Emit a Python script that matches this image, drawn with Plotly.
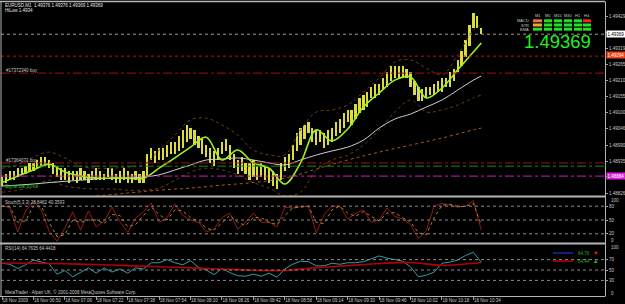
import plotly.graph_objects as go
from plotly.subplots import make_subplots
import pandas as pd

W, H = 625, 304
BASE = pd.Timestamp("2009-11-18 06:34")

# ---------------- data ----------------
bar_minutes = list(range(0, 245, 2))          # 2-minute sampling of the M1 bars
bar_high = [
    1.4888, 1.4889, 1.4890,
    1.4890, 1.4891, 1.4891, 1.4892, 1.4893,
    1.4893, 1.4894, 1.4895, 1.4895, 1.4894,
    1.4893, 1.4892,
    1.4891, 1.4891, 1.4890, 1.4890,
    1.4890, 1.4891, 1.4890, 1.4889,
    1.4890, 1.4891, 1.4890, 1.4889, 1.4891, 1.4891,
    1.4889, 1.4890, 1.4891, 1.4890, 1.4889, 1.4890, 1.4889, 1.4890,
    1.4896,
    1.4898, 1.4897, 1.4898, 1.4898,
    1.4899, 1.4900, 1.4900, 1.4902,
    1.4904, 1.4906, 1.4905, 1.4904,
    1.4902, 1.4901, 1.4899,
    1.4898, 1.4897, 1.4898,
    1.4900, 1.4901, 1.4899,
    1.4896, 1.4894, 1.4895,
    1.4893, 1.4893, 1.4894, 1.4892, 1.4893, 1.4892,
    1.4891, 1.4890, 1.4889, 1.4893,
    1.4895, 1.4896,
    1.4899, 1.4903,
    1.4905, 1.4906, 1.4907,
    1.4905, 1.4904, 1.4904, 1.4903, 1.4904, 1.4905,
    1.4907, 1.4908,
    1.4910, 1.4911, 1.4911, 1.4913,
    1.4915, 1.4916, 1.4917,
    1.4919, 1.4920, 1.4920,
    1.4922, 1.4924,
    1.4926, 1.4926, 1.4926, 1.4926, 1.4925,
    1.4924, 1.4921,
    1.4919, 1.4918, 1.4919,
    1.4919, 1.4920, 1.4921,
    1.4922, 1.4922, 1.4924, 1.4925,
    1.4928,
    1.4931, 1.4935,
    1.4940, 1.4944,
    1.4943, 1.4939]
bar_low = [
    1.4885, 1.4886, 1.4887,
    1.4887, 1.4888, 1.4889, 1.4889, 1.4890,
    1.4890, 1.4891, 1.4892, 1.4892, 1.4891,
    1.4889, 1.4888,
    1.4887, 1.4887, 1.4886, 1.4887,
    1.4886, 1.4887, 1.4887, 1.4886,
    1.4887, 1.4887, 1.4887, 1.4887, 1.4888, 1.4887,
    1.4886, 1.4886, 1.4887, 1.4886, 1.4886, 1.4887, 1.4886, 1.4886,
    1.4888,
    1.4894, 1.4893, 1.4894, 1.4894,
    1.4895, 1.4896, 1.4896, 1.4897,
    1.4898, 1.4900, 1.4901, 1.4899,
    1.4898, 1.4896, 1.4895,
    1.4893, 1.4892, 1.4894,
    1.4896, 1.4897, 1.4894,
    1.4891, 1.4889, 1.4890,
    1.4889, 1.4887, 1.4888, 1.4887, 1.4888, 1.4887,
    1.4886, 1.4885, 1.4884, 1.4887,
    1.4890, 1.4891,
    1.4894, 1.4897,
    1.4899, 1.4901, 1.4903,
    1.4900, 1.4899, 1.4900, 1.4898, 1.4899, 1.4900,
    1.4902, 1.4903,
    1.4905, 1.4907, 1.4906, 1.4908,
    1.4910, 1.4911, 1.4912,
    1.4915, 1.4915, 1.4916,
    1.4918, 1.4919,
    1.4921, 1.4922, 1.4922, 1.4922, 1.4922,
    1.4919, 1.4916,
    1.4914, 1.4914, 1.4915,
    1.4916, 1.4916, 1.4917,
    1.4917, 1.4919, 1.4919, 1.4921,
    1.4924,
    1.4926, 1.4929,
    1.4933, 1.4939,
    1.4939, 1.4937]

ma_minutes = list(range(0, 241, 8)) + [244]
green_ma = [1.48862, 1.48884, 1.48905, 1.48925, 1.48898, 1.48884, 1.48877, 1.48877,
            1.48877, 1.48877, 1.48911, 1.48946, 1.48983, 1.49017, 1.48939, 1.48973,
            1.48929, 1.48911, 1.48857, 1.48929, 1.49042, 1.49004, 1.49045, 1.49120,
            1.49168, 1.49212, 1.49223, 1.49151, 1.49185, 1.49247, 1.49308, 1.49339]
white_ma = [1.48850, 1.48853, 1.48857, 1.48862, 1.48866, 1.48870, 1.48874, 1.48877,
            1.48877, 1.48881, 1.48888, 1.48905, 1.48922, 1.48939, 1.48942, 1.48946,
            1.48939, 1.48929, 1.48922, 1.48939, 1.48956, 1.48970, 1.48983, 1.49007,
            1.49048, 1.49079, 1.49096, 1.49120, 1.49144, 1.49178, 1.49212, 1.49226]
band_upper = [1.48911, 1.48922, 1.48949, 1.48966, 1.48946, 1.48918, 1.48911, 1.48911,
              1.48915, 1.48922, 1.48973, 1.49024, 1.49076, 1.49082, 1.49059, 1.49024,
              1.48973, 1.48956, 1.48956, 1.49042, 1.49103, 1.49110, 1.49127, 1.49171,
              1.49219, 1.49274, 1.49281, 1.49253, 1.49230, 1.49298, 1.49383, 1.49401]
band_lower = [1.48829, 1.48836, 1.48850, 1.48870, 1.48850, 1.48843, 1.48840, 1.48840,
              1.48836, 1.48836, 1.48843, 1.48870, 1.48898, 1.48911, 1.48905, 1.48888,
              1.48862, 1.48843, 1.48817, 1.48829, 1.48905, 1.48939, 1.48956, 1.48990,
              1.49042, 1.49103, 1.49144, 1.49103, 1.49110, 1.49127, 1.49151, 1.49161]
slow_ma_minutes = [48, 64, 80, 96, 112, 128, 144, 160, 176, 192, 208, 224, 240, 244]
slow_ma = [1.48816, 1.48826, 1.48836, 1.48843, 1.48853, 1.48862, 1.48877, 1.48908,
           1.48939, 1.48966, 1.48990, 1.49014, 1.49042, 1.49048]

osc_minutes = list(range(0, 245, 4))
stoch_main = [82, 76, 24, 70, 90, 72, 25, 4, 32, 68,
              28, 70, 35, 47, 78, 47, 23, 54, 68, 87,
              45, 55, 85, 60, 50, 45, 24, 31, 55, 65,
              30, 45, 65, 45, 45, 35, 78, 76, 79, 80,
              22, 62, 80, 80, 52, 64, 72, 45, 50, 76,
              58, 52, 40, 10, 27, 80, 86, 82, 78, 80,
              92, 28]
stoch_signal = [80, 79, 45, 48, 80, 80, 45, 14, 18, 50,
                45, 50, 50, 42, 62, 60, 35, 40, 60, 78,
                62, 50, 72, 70, 55, 48, 32, 28, 44, 60,
                45, 38, 55, 55, 45, 40, 60, 76, 78, 80,
                45, 42, 72, 80, 65, 58, 68, 58, 48, 65,
                66, 55, 46, 22, 18, 55, 82, 84, 80, 79,
                86, 40]
rsi_values = [63, 61, 53, 60, 69, 66, 62, 42, 49, 37,
              46, 54, 44, 54, 46, 52, 44, 54, 52, 64,
              64, 70, 64, 60, 68, 55, 50, 41, 53, 45,
              39, 38, 42, 38, 44, 36, 52, 61, 67, 66,
              58, 58, 63, 61, 64, 64, 66, 71, 77, 73,
              70, 67, 56, 37, 40, 46, 63, 65, 69, 78,
              84, 65]
rsi_ma_minutes = list(range(0, 241, 16)) + [244]
rsi_ma = [63.5, 63, 62, 60.5, 58.5, 56.3, 54, 51.5, 49.5, 49, 54.5, 58.5, 62.5, 64.5, 59, 63, 64.4]

price_ticks = [1.48826, 1.48881, 1.48935, 1.48990, 1.49046, 1.49100,
               1.49155, 1.49210, 1.49265, 1.49319, 1.49374, 1.49429]
hidden_ticks = [1.48881, 1.49374]   # covered by the price boxes in the picture
time_tick_minutes = list(range(0, 241, 16))
time_tick_labels = ["18 Nov 2009", "18 Nov 06:50", "18 Nov 07:06", "18 Nov 07:22",
                    "18 Nov 07:38", "18 Nov 07:54", "18 Nov 08:10", "18 Nov 08:26",
                    "18 Nov 08:42", "18 Nov 08:58", "18 Nov 09:14", "18 Nov 09:30",
                    "18 Nov 09:46", "18 Nov 10:02", "18 Nov 10:18", "18 Nov 10:34"]

bid_price = 1.49369
red_level = 1.49294
order1_price = 1.49236
order2_price = 1.48929
green_level = 1.48918
magenta_level = 1.48884

assert len(bar_high) == len(bar_minutes) == len(bar_low)
assert len(green_ma) == len(ma_minutes) == len(white_ma) == len(band_upper) == len(band_lower)
assert len(stoch_main) == len(osc_minutes) == len(stoch_signal) == len(rsi_values)
assert len(rsi_ma) == len(rsi_ma_minutes)

# ---------------- helpers ----------------
def T(mins):
    return [BASE + pd.Timedelta(minutes=m) for m in mins]

def px(x):
    return x / W

def py(y):
    return (H - y) / H

FONT = "Liberation Sans"
GRAY = "#c8c8c8"

fig = make_subplots(rows=3, cols=1, shared_xaxes=True, vertical_spacing=0.0)

# main panel
fig.add_trace(go.Scatter(x=T(ma_minutes), y=band_upper, mode="lines", line_shape="spline",
                         line=dict(color="#6a3e14", width=1, dash="dot")), row=1, col=1)
fig.add_trace(go.Scatter(x=T(ma_minutes), y=band_lower, mode="lines", line_shape="spline",
                         line=dict(color="#6a3e14", width=1, dash="dot")), row=1, col=1)
fig.add_trace(go.Scatter(x=T(slow_ma_minutes), y=slow_ma, mode="lines", line_shape="spline",
                         line=dict(color="#a8581a", width=1, dash="dot")), row=1, col=1)
fig.add_trace(go.Bar(x=T(bar_minutes), y=[h - l for h, l in zip(bar_high, bar_low)],
                     base=bar_low, width=1.15 * 60000,
                     marker=dict(color="#dcdc3c", line=dict(width=0))), row=1, col=1)
fig.add_trace(go.Scatter(x=T(ma_minutes), y=white_ma, mode="lines", line_shape="spline",
                         line=dict(color="#cfcfcf", width=1)), row=1, col=1)
fig.add_trace(go.Scatter(x=T(ma_minutes), y=green_ma, mode="lines", line_shape="spline",
                         line=dict(color="#9cf020", width=1.6)), row=1, col=1)

# stochastic
fig.add_trace(go.Scatter(x=T(osc_minutes), y=stoch_main, mode="lines",
                         line=dict(color="#981818", width=1)), row=2, col=1)
fig.add_trace(go.Scatter(x=T(osc_minutes), y=stoch_signal, mode="lines",
                         line=dict(color="#a88a20", width=1, dash="dot")), row=2, col=1)

# RSI
fig.add_trace(go.Scatter(x=T(osc_minutes), y=rsi_values, mode="lines",
                         line=dict(color="#2ca0a8", width=1)), row=3, col=1)
fig.add_trace(go.Scatter(x=T(rsi_ma_minutes), y=rsi_ma, mode="lines", line_shape="spline",
                         line=dict(color="#b40000", width=1.6)), row=3, col=1)

x_range = [BASE - pd.Timedelta(minutes=0.51), BASE + pd.Timedelta(minutes=307.0)]
xdom = [px(1), px(605)]
for i in (1, 2, 3):
    fig.update_xaxes(row=i, col=1, domain=xdom, range=x_range, showgrid=False,
                     zeroline=False, showline=False, type="date")
fig.update_xaxes(row=1, col=1, showticklabels=False, ticks="")
fig.update_xaxes(row=2, col=1, showticklabels=False, ticks="")
fig.update_xaxes(row=3, col=1, tickvals=T(time_tick_minutes), ticktext=time_tick_labels,
                 ticklabelposition="outside right", ticks="outside", ticklen=3,
                 tickangle=0, tickcolor="#a0a0a0",
                 tickfont=dict(family=FONT, size=4.5, color=GRAY))

ax_common = dict(side="right", showgrid=False, zeroline=False, showline=False,
                 ticks="outside", ticklen=2, tickcolor="#a0a0a0",
                 tickfont=dict(family=FONT, size=4.5, color=GRAY))
fig.update_yaxes(row=1, col=1, domain=[py(196), py(2)], range=[1.48816, 1.49479],
                 tickvals=price_ticks,
                 ticktext=["" if v in hidden_ticks else f"{v:.5f}" for v in price_ticks],
                 **ax_common)
fig.update_yaxes(row=2, col=1, domain=[py(243), py(197)], range=[0, 100],
                 tickvals=[20, 50, 80], ticktext=["20", "50", "80"], **ax_common)
fig.update_yaxes(row=3, col=1, domain=[py(296), py(244)], range=[0, 100],
                 tickvals=[30, 50, 70], ticktext=["30", "50", "70"], **ax_common)

shapes = []
def hline(yref, yv, color, dash, width=1):
    shapes.append(dict(type="line", xref="paper", yref=yref, x0=px(1), x1=px(605),
                       y0=yv, y1=yv, line=dict(color=color, width=width, dash=dash)))

hline("y", bid_price, "#a09a80", "dot")
hline("y", red_level, "#c81010", "dot")
hline("y", order1_price, "#a01010", "dashdot")
hline("y", order2_price, "#a01010", "dashdot")
hline("y", green_level, "#109010", "dashdot")
hline("y", magenta_level, "#c020c0", "dashdot")
for lv in (20, 50, 80):
    hline("y2", lv, "#8a8a8a", "dot")
for lv in (30, 50, 70):
    hline("y3", lv, "#8a8a8a", "dot")

def pline(x0, y0, x1, y1, color="#b4b4b4", width=1.5):
    shapes.append(dict(type="line", xref="paper", yref="paper", x0=px(x0), y0=py(y0),
                       x1=px(x1), y1=py(y1), line=dict(color=color, width=width)))

pline(0, 1.5, 605, 1.5)
pline(0, 196.5, 605, 196.5, width=2)
pline(0, 243.5, 605, 243.5, width=2)
pline(0, 296.5, 605, 296.5, width=1)
pline(1, 1.5, 1, 296.5, width=1)
pline(605.5, 1.5, 605.5, 296.5, width=1)

# MTF indicator table
col_x = [(533, 542), (544, 552), (554, 562), (564, 572), (574, 582), (583, 591)]
row_y = [(19.3, 22.3), (23.5, 26.5), (27.7, 30.7)]
GREEN = "#22e022"
cell_colors = [
    ["#f07050", "#f0a030", GREEN],
    [GREEN, GREEN, GREEN],
    [GREEN, GREEN, GREEN],
    [GREEN, GREEN, GREEN],
    [GREEN, GREEN, GREEN],
    ["#ff2020", GREEN, GREEN],
]
for ci, (x0, x1) in enumerate(col_x):
    for ri, (y0, y1) in enumerate(row_y):
        shapes.append(dict(type="rect", xref="paper", yref="paper", x0=px(x0), x1=px(x1),
                           y0=py(y1), y1=py(y0), line=dict(width=0),
                           fillcolor=cell_colors[ci][ri]))

pline(553, 253, 573, 253, color="#2040ff", width=1)
pline(553, 261, 573, 261, color="#c00000", width=1.5)

fig.update_layout(shapes=shapes)

ann = []
def text(x, y, s, size=4.5, color=GRAY, xanchor="left", **kw):
    ann.append(dict(x=px(x), y=py(y), xref="paper", yref="paper", text=s, showarrow=False,
                    xanchor=xanchor, yanchor="middle",
                    font=dict(family=FONT, size=size, color=color), **kw))

text(3, 5, "EURUSD,M1  1.49376 1.49376 1.49369 1.49369", color="#e6e6e6")
text(3, 10, "HiLow 1.4934", color="#e6e6e6")
text(4, 70.5, "#17372340 buy")
text(4, 160.5, "#17364071 buy")
text(3, 186.5, "Signal Bar by ua", color="#20c020")
text(3, 202, "Stoch(5,3,3) 28.8482 40.3593")
text(3, 248.5, "RSI(14) 64.7635 64.4418")
text(3, 291.7, "MetaTrader - Alpari UK, © 2001-2008 MetaQuotes Software Corp.")

text(606, 34, "1.49369", color="#000000", bgcolor="#ffffff", borderpad=0.6)
text(606, 55, "1.49294", color="#ffffff", bgcolor="#f04010", borderpad=0.6)
text(606, 176, "1.48884", color="#ffffff", bgcolor="#e020e0", borderpad=0.6)

text(609, 201, "100")
text(609, 240, "0")
text(609, 247.5, "100")
text(609, 293, "0")

text(522, 41.8, "1.49369", size=18.5, color="#22ee22")

for lbl, (x0, x1) in zip(["M1", "M5", "M15", "M30", "H1", "H4"], col_x):
    text((x0 + x1) / 2, 15.7, lbl, size=4, xanchor="center")
for lbl, (y0, y1) in zip(["MACD", "STR", "EMA"], row_y):
    text(531, (y0 + y1) / 2, lbl, size=4, xanchor="right")

text(576, 253, "64.76", color="#30b030")
text(591, 253, "▼", size=5.5, color="#ff2020")
text(576, 261, "64.44", color="#30b030")
text(591, 261, "▲", size=5.5, color="#20c020")

fig.update_layout(annotations=ann)

fig.update_layout(width=W, height=H, margin=dict(l=0, r=0, t=0, b=0),
                  paper_bgcolor="#000000", plot_bgcolor="#000000",
                  showlegend=False, bargap=0,
                  font=dict(family=FONT, size=5, color=GRAY))

fig.write_html("out.html")
